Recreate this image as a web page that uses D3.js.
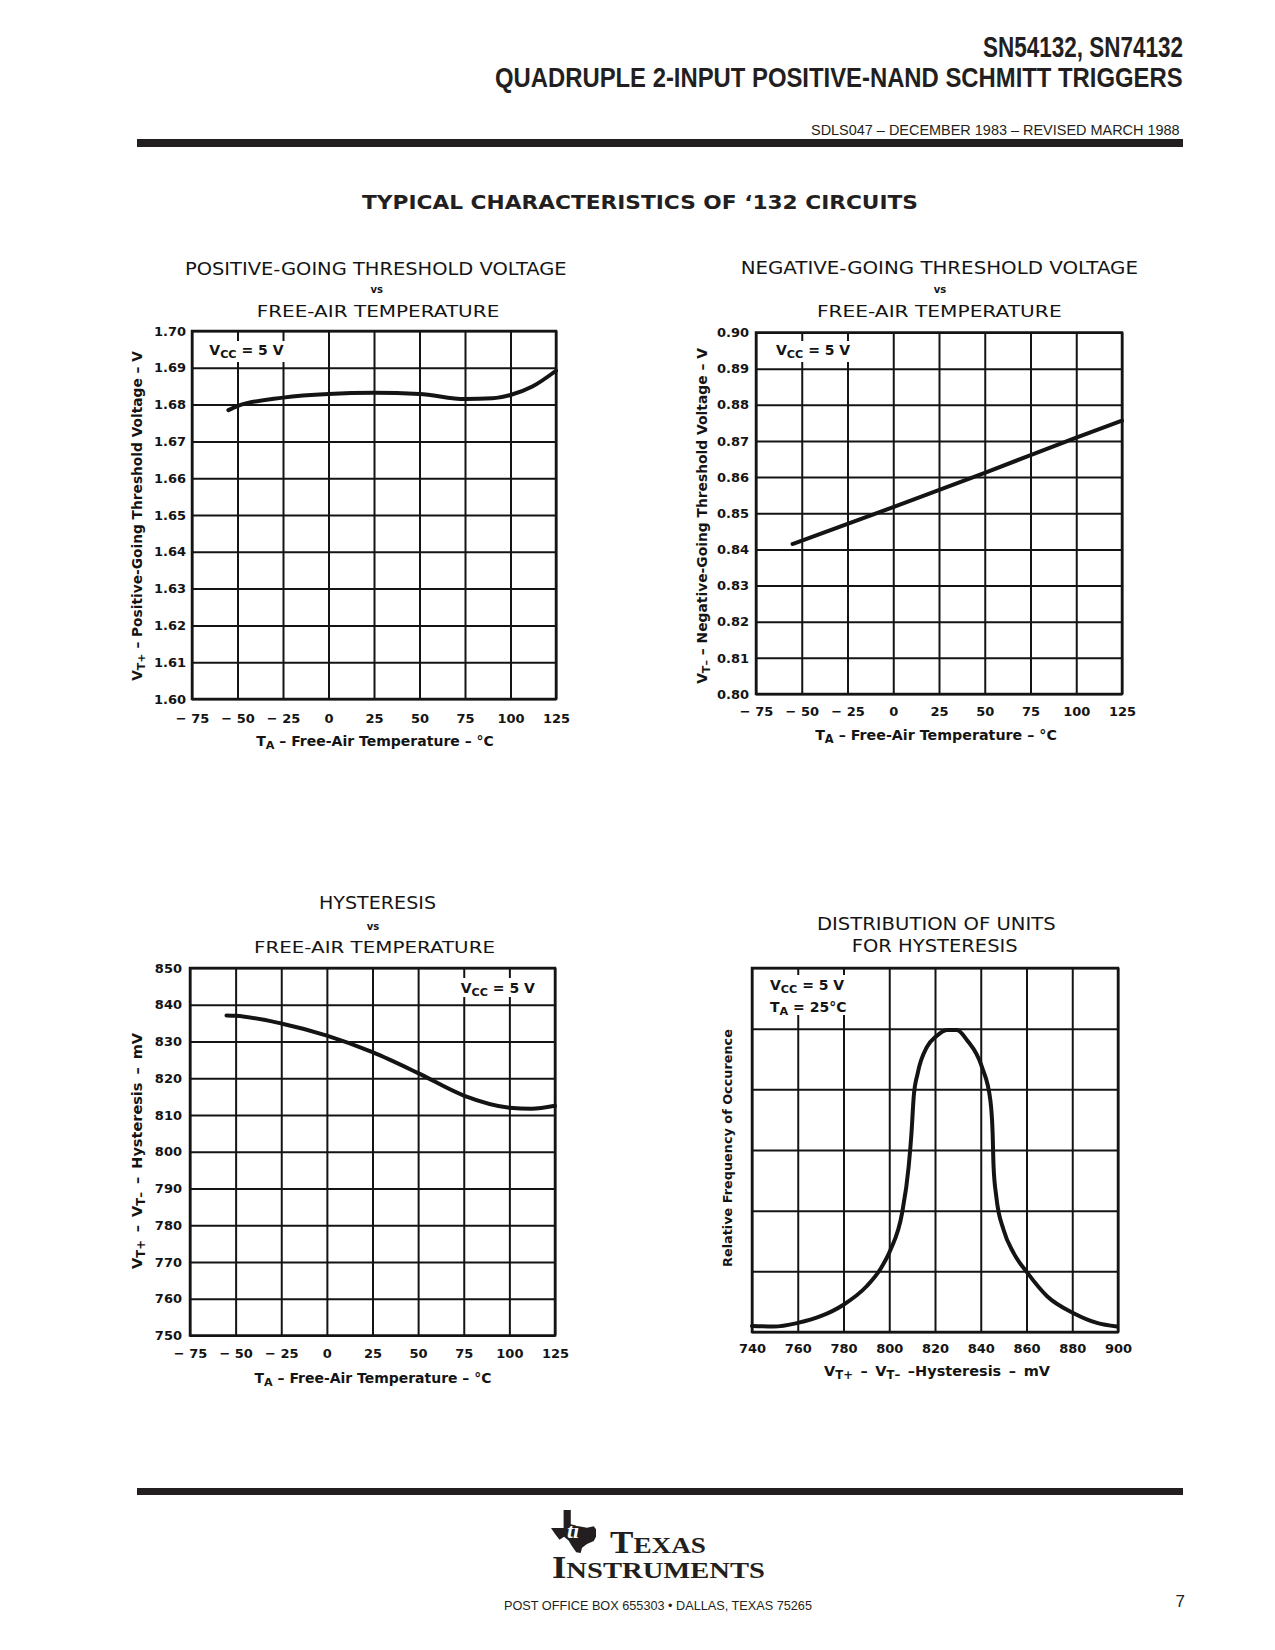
<!DOCTYPE html>
<html><head><meta charset="utf-8">
<script src="https://cdn.jsdelivr.net/npm/d3@7/dist/d3.min.js"></script>
<style>
html,body{margin:0;padding:0;background:#fff;}
svg{display:block;}
</style></head>
<body>
<svg id="page" width="1275" height="1650"></svg>
<script>
// ================= DATA =================
const tempTicks = [-75, -50, -25, 0, 25, 50, 75, 100, 125];
const tempTickLabels = ["\u2212 75", "\u2212 50", "\u2212 25", "0", "25", "50", "75", "100", "125"];

// Chart 1: positive-going threshold voltage vs temperature
const vtPlusTicks = [1.60, 1.61, 1.62, 1.63, 1.64, 1.65, 1.66, 1.67, 1.68, 1.69, 1.70];
const vtPlusTickLabels = ["1.60", "1.61", "1.62", "1.63", "1.64", "1.65", "1.66", "1.67", "1.68", "1.69", "1.70"];
const vtPlusTemp = [-55, -50, -25, 0, 25, 50, 75, 90, 100, 112, 125];
const vtPlusValues = [1.6785, 1.6796, 1.6819, 1.6829, 1.6832, 1.6829, 1.6815, 1.6817, 1.6826, 1.6849, 1.6892];

// Chart 2: negative-going threshold voltage vs temperature
const vtMinusTicks = [0.80, 0.81, 0.82, 0.83, 0.84, 0.85, 0.86, 0.87, 0.88, 0.89, 0.90];
const vtMinusTickLabels = ["0.80", "0.81", "0.82", "0.83", "0.84", "0.85", "0.86", "0.87", "0.88", "0.89", "0.90"];
const vtMinusTemp = [-55, 0, 50, 100, 125];
const vtMinusValues = [0.8415, 0.8517, 0.8612, 0.8709, 0.8756];

// Chart 3: hysteresis vs temperature (mV)
const hystTicks = [750, 760, 770, 780, 790, 800, 810, 820, 830, 840, 850];
const hystTickLabels = ["750", "760", "770", "780", "790", "800", "810", "820", "830", "840", "850"];
const hystTemp = [-55, -50, -25, 0, 25, 50, 75, 100, 112, 125];
const hystValues = [837.1, 837.0, 834.9, 831.6, 827.1, 821.4, 815.3, 812.0, 811.7, 812.5];

// Chart 4: distribution of units for hysteresis
const distTicks = [740, 760, 780, 800, 820, 840, 860, 880, 900];
const distTickLabels = ["740", "760", "780", "800", "820", "840", "860", "880", "900"];
const distRows = [0, 1, 2, 3, 4, 5, 6];
const distHyst = [740, 749.5, 760, 770, 780, 790, 796, 800.5, 805.6, 808.5, 809.7, 810.7, 812.4, 816.5, 820.4, 825.2, 829.6, 834, 840.5, 844.2, 845.2, 845.6, 846.8, 850, 854.4, 860.5, 869, 880.6, 890.8, 899.5];
const distFreq = [0.10, 0.09, 0.15, 0.26, 0.45, 0.75, 1.03, 1.35, 1.96, 2.73, 3.27, 3.88, 4.26, 4.70, 4.87, 4.98, 4.98, 4.81, 4.37, 3.82, 3.27, 2.73, 2.23, 1.68, 1.30, 0.97, 0.59, 0.31, 0.15, 0.09];

// ================= DRAWING =================
const INK = "#141414";
const SANS = "'DejaVu Sans', 'Liberation Sans', sans-serif";
const svg = d3.select("#page");

function rich(parent, parts, attrs) {
  const t = parent.append("text");
  Object.entries(attrs).forEach(([k, v]) => t.attr(k, v));
  let shifted = 0;
  parts.forEach(p => {
    const s = t.append("tspan").text(p.t);
    const want = p.sub ? 3 : 0;
    if (want !== shifted) { s.attr("dy", want - shifted); shifted = want; }
    if (p.sub) s.attr("font-size", "0.8em");
  });
  return t;
}

// scale a label so that its length matches the reference, spreading any rest over the spaces
function fitLength(t, target, base, maxSize) {
  const L = t.node().getComputedTextLength();
  let size = base * target / L;
  if (size > maxSize) {
    size = maxSize;
    t.attr("font-size", size);
    const L2 = t.node().getComputedTextLength();
    const spaces = (t.text().match(/ /g) || []).length;
    if (spaces) t.attr("word-spacing", (target - L2) / spaces);
  } else {
    t.attr("font-size", size);
  }
}

function titleText(g, txt, cx, y, size, width) {
  g.append("text").attr("x", cx - width / 2).attr("y", y)
    .attr("font-family", SANS).attr("font-size", size)
    .attr("fill", INK).attr("textLength", width).attr("lengthAdjust", "spacingAndGlyphs")
    .text(txt);
}

function chart(c) {
  const g = svg.append("g");
  const x = d3.scaleLinear().domain(c.xDomain).range([c.left, c.right]);
  const y = d3.scaleLinear().domain(c.yDomain).range([c.bottom, c.top]);
  const H = c.bottom - c.top, W = c.right - c.left;

  // grid lines (through axes)
  g.append("g").attr("transform", `translate(0,${c.bottom})`)
    .call(d3.axisBottom(x).tickValues(c.xTicks).tickSize(-H).tickFormat(""))
    .call(a => a.select(".domain").remove())
    .call(a => a.selectAll("line").attr("stroke", INK).attr("stroke-width", 2));
  g.append("g").attr("transform", `translate(${c.left},0)`)
    .call(d3.axisLeft(y).tickValues(c.yGrid).tickSize(-W).tickFormat(""))
    .call(a => a.select(".domain").remove())
    .call(a => a.selectAll("line").attr("stroke", INK).attr("stroke-width", 2));

  // white box behind condition label
  g.append("rect").attr("x", c.box[0]).attr("y", c.box[1]).attr("width", c.box[2]).attr("height", c.box[3]).attr("fill", "#fff");

  // frame
  g.append("rect").attr("x", c.left).attr("y", c.top).attr("width", W).attr("height", H)
    .attr("fill", "none").attr("stroke", INK).attr("stroke-width", 2.5);

  // curve
  const line = d3.line().x(d => x(d[0])).y(d => y(d[1])).curve(d3.curveMonotoneX);
  g.append("path").datum(d3.zip(c.xs, c.ys)).attr("d", line)
    .attr("fill", "none").attr("stroke", INK).attr("stroke-width", 4).attr("stroke-linecap", "round");

  // x tick labels
  g.append("g").attr("transform", `translate(0,${c.bottom})`)
    .call(d3.axisBottom(x).tickValues(c.xTicks).tickSize(0).tickFormat((d, i) => c.xTickLabels[i]))
    .call(a => a.select(".domain").remove())
    .attr("font-family", SANS).attr("font-size", 13).attr("font-weight", "bold")
    .call(a => a.selectAll("text").attr("y", c.xLabOff).attr("dy", null).attr("fill", INK));

  // y tick labels
  if (c.yTickLabels) {
    g.append("g").attr("transform", `translate(${c.left},0)`)
      .call(d3.axisLeft(y).tickValues(c.yTicks).tickSize(0).tickPadding(c.yLabOff).tickFormat((d, i) => c.yTickLabels[i]))
      .call(a => a.select(".domain").remove())
      .attr("font-family", SANS).attr("font-size", 13).attr("font-weight", "bold")
      .call(a => a.selectAll("text").attr("fill", INK));
  }

  // titles
  c.titles.forEach(t => {
    if (t.vs) {
      g.append("text").attr("x", t.cx).attr("y", t.y).attr("text-anchor", "middle")
        .attr("font-family", SANS).attr("font-size", 10).attr("font-weight", "bold").attr("fill", INK).text(t.txt);
    } else {
      titleText(g, t.txt, t.cx, t.y, t.size || 16, t.w);
    }
  });

  // axis titles
  const xt = rich(g, c.xTitle.parts, {x: c.xTitle.cx, y: c.xTitle.y, "text-anchor": "middle",
    "font-family": SANS, "font-size": 12.5, "font-weight": "bold", fill: INK});
  fitLength(xt, c.xTitle.len, 12.5, 14.5);
  const yt = rich(g, c.yTitle.parts, {transform: `translate(${c.yTitle.x},${c.yTitle.cy}) rotate(-90)`, "text-anchor": "middle",
    "font-family": SANS, "font-size": 12.5, "font-weight": "bold", fill: INK});
  fitLength(yt, c.yTitle.len, 12.5, 14.5);

  // condition labels
  c.notes.forEach(n => {
    rich(g, n.parts, {x: n.x, y: n.y, "font-family": SANS, "font-size": 14, "font-weight": "bold", fill: INK});
  });
}

const taTitle = [{t: "T"}, {t: "A", sub: true}, {t: " \u2013 Free-Air Temperature \u2013 \u00B0C"}];
const vccNote = [{t: "V"}, {t: "CC", sub: true}, {t: " = 5 V"}];

chart({
  left: 192, right: 556, top: 331, bottom: 699,
  xDomain: [-75, 125], yDomain: [1.60, 1.70],
  xTicks: tempTicks, xTickLabels: tempTickLabels, xLabOff: 24,
  yTicks: vtPlusTicks, yGrid: vtPlusTicks, yTickLabels: vtPlusTickLabels, yLabOff: 6,
  xs: vtPlusTemp, ys: vtPlusValues,
  box: [204, 341, 90, 21],
  titles: [
    {txt: "POSITIVE-GOING THRESHOLD VOLTAGE", cx: 375.8, y: 275, w: 381.7, size: 17},
    {txt: "vs", cx: 376.7, y: 293, vs: true},
    {txt: "FREE-AIR TEMPERATURE", cx: 378, y: 316.7, w: 242.6, size: 16.5}
  ],
  xTitle: {parts: taTitle, cx: 375, y: 746, len: 238},
  yTitle: {parts: [{t: "V"}, {t: "T+", sub: true}, {t: " \u2013 Positive-Going Threshold Voltage \u2013 V"}], x: 141.5, cy: 516, len: 330},
  notes: [{parts: vccNote, x: 209.3, y: 355}]
});

chart({
  left: 756, right: 1122, top: 332.5, bottom: 694,
  xDomain: [-75, 125], yDomain: [0.80, 0.90],
  xTicks: tempTicks, xTickLabels: tempTickLabels, xLabOff: 22,
  yTicks: vtMinusTicks, yGrid: vtMinusTicks, yTickLabels: vtMinusTickLabels, yLabOff: 7,
  xs: vtMinusTemp, ys: vtMinusValues,
  box: [770, 341, 90, 21],
  titles: [
    {txt: "NEGATIVE-GOING THRESHOLD VOLTAGE", cx: 939.3, y: 274, w: 397.3, size: 17},
    {txt: "vs", cx: 940, y: 293, vs: true},
    {txt: "FREE-AIR TEMPERATURE", cx: 939.3, y: 316.7, w: 244.7, size: 16.5}
  ],
  xTitle: {parts: taTitle, cx: 936, y: 740, len: 242},
  yTitle: {parts: [{t: "V"}, {t: "T\u2013", sub: true}, {t: " \u2013 Negative-Going Threshold Voltage \u2013 V"}], x: 706.5, cy: 516, len: 336},
  notes: [{parts: vccNote, x: 776, y: 354.5}]
});

chart({
  left: 190, right: 555, top: 968, bottom: 1335.5,
  xDomain: [-75, 125], yDomain: [750, 850],
  xTicks: tempTicks, xTickLabels: tempTickLabels, xLabOff: 22.5,
  yTicks: hystTicks, yGrid: hystTicks, yTickLabels: hystTickLabels, yLabOff: 8,
  xs: hystTemp, ys: hystValues,
  box: [456, 978, 86, 19],
  titles: [
    {txt: "HYSTERESIS", cx: 377.5, y: 909.3, w: 117, size: 17},
    {txt: "vs", cx: 373, y: 930, vs: true},
    {txt: "FREE-AIR TEMPERATURE", cx: 374.5, y: 952.7, w: 241, size: 16.5}
  ],
  xTitle: {parts: taTitle, cx: 373, y: 1383, len: 237},
  yTitle: {parts: [{t: "V"}, {t: "T+", sub: true}, {t: " \u2013 V"}, {t: "T\u2013", sub: true}, {t: " \u2013 Hysteresis \u2013 mV"}], x: 141.5, cy: 1151, len: 236},
  notes: [{parts: vccNote, x: 460.7, y: 993.3}]
});

chart({
  left: 752, right: 1118, top: 968, bottom: 1332,
  xDomain: [740, 900], yDomain: [0, 6],
  xTicks: distTicks, xTickLabels: distTickLabels, xLabOff: 20.5,
  yTicks: distRows, yGrid: distRows, yTickLabels: null, yLabOff: 0,
  xs: distHyst, ys: distFreq,
  box: [764, 975, 92, 40],
  titles: [
    {txt: "DISTRIBUTION OF UNITS", cx: 936.3, y: 930, w: 238.7, size: 17},
    {txt: "FOR HYSTERESIS", cx: 934.7, y: 951.7, w: 166, size: 17}
  ],
  xTitle: {parts: [{t: "V"}, {t: "T+", sub: true}, {t: " \u2013 V"}, {t: "T\u2013", sub: true}, {t: " \u2013Hysteresis \u2013 mV"}], cx: 937, y: 1376, len: 226},
  yTitle: {parts: [{t: "Relative Frequency of Occurence"}], x: 732, cy: 1148, len: 238},
  notes: [
    {parts: vccNote, x: 770, y: 990},
    {parts: [{t: "T"}, {t: "A", sub: true}, {t: " = 25\u00B0C"}], x: 770, y: 1011.7}
  ]
});

// ================= PAGE FURNITURE =================
const HDR = "'Liberation Sans Narrow', 'Liberation Sans', Arial, sans-serif";
const RULE = "#231f20";
function fitted(txt, x0, x1, y, size, family, weight) {
  return svg.append("text").attr("x", x0).attr("y", y).attr("font-family", family).attr("font-size", size)
    .attr("font-weight", weight).attr("fill", RULE).attr("textLength", x1 - x0)
    .attr("lengthAdjust", "spacingAndGlyphs").text(txt);
}
// header lines: measured, then squeezed horizontally with a transform so the real box spans x0..x1
function fitScaled(txt, x0, x1, y, size, family, weight) {
  const t = svg.append("text").attr("x", 0).attr("y", 0).attr("font-family", family).attr("font-size", size)
    .attr("font-weight", weight).attr("fill", RULE).text(txt);
  const L = t.node().getComputedTextLength();
  t.attr("transform", `translate(${x0},${y}) scale(${(x1 - x0) / L},1)`);
  return t;
}
fitScaled("SN54132, SN74132", 983, 1183, 57, 29, HDR, "bold");
fitScaled("QUADRUPLE 2-INPUT POSITIVE-NAND SCHMITT TRIGGERS", 495, 1183, 87, 28.5, HDR, "bold");
fitScaled("SDLS047 \u2013 DECEMBER 1983 \u2013 REVISED MARCH 1988", 811, 1180, 135, 14, "'Liberation Sans', Arial, sans-serif", "normal");
svg.append("rect").attr("x", 137).attr("y", 139).attr("width", 1046).attr("height", 8).attr("fill", RULE);

fitted("TYPICAL CHARACTERISTICS OF \u2018132 CIRCUITS", 362, 918, 209, 20, SANS, "bold");

svg.append("rect").attr("x", 137).attr("y", 1488).attr("width", 1046).attr("height", 7).attr("fill", RULE);

// TI logo (Texas outline)
const texas = [[0.28,0],[0.44,0],[0.44,0.33],[0.62,0.38],[0.80,0.41],[0.95,0.38],[1.0,0.45],[1.0,0.62],[0.95,0.72],[0.80,0.79],[0.69,0.88],[0.66,1.0],[0.56,0.98],[0.46,0.83],[0.39,0.71],[0.29,0.62],[0.19,0.69],[0.09,0.56],[0.0,0.42],[0.28,0.42]];
const lx = d3.scaleLinear().domain([0, 1]).range([551, 596]);
const ly = d3.scaleLinear().domain([0, 1]).range([1510, 1553]);
svg.append("path").datum(texas).attr("d", d3.line().x(d => lx(d[0])).y(d => ly(d[1])).curve(d3.curveLinearClosed))
  .attr("fill", RULE);
svg.append("text").attr("x", 567).attr("y", 1538).attr("font-family", "'Liberation Serif', serif").attr("font-style", "italic")
  .attr("font-weight", "bold").attr("font-size", 22).attr("fill", "#fff").text("ti");

const SERIF = "'Liberation Serif', 'DejaVu Serif', serif";
const tx = svg.append("text").attr("x", 610).attr("y", 1553).attr("font-family", SERIF).attr("fill", RULE)
  .attr("font-weight", "bold").attr("textLength", 96).attr("lengthAdjust", "spacingAndGlyphs");
tx.append("tspan").attr("font-size", 31).text("T");
tx.append("tspan").attr("font-size", 24).text("EXAS");
const ix = svg.append("text").attr("x", 552).attr("y", 1578).attr("font-family", SERIF).attr("fill", RULE)
  .attr("font-weight", "bold").attr("textLength", 213).attr("lengthAdjust", "spacingAndGlyphs");
ix.append("tspan").attr("font-size", 31).text("I");
ix.append("tspan").attr("font-size", 24).text("NSTRUMENTS");

fitted("POST OFFICE BOX 655303 \u2022 DALLAS, TEXAS 75265", 504, 812, 1610, 13, "'Liberation Sans', Arial, sans-serif", "normal");

svg.append("text").attr("x", 1185).attr("y", 1607).attr("text-anchor", "end").attr("font-family", "'Liberation Sans', Arial, sans-serif")
  .attr("font-size", 17).attr("fill", RULE).text("7");
</script>
</body></html>
